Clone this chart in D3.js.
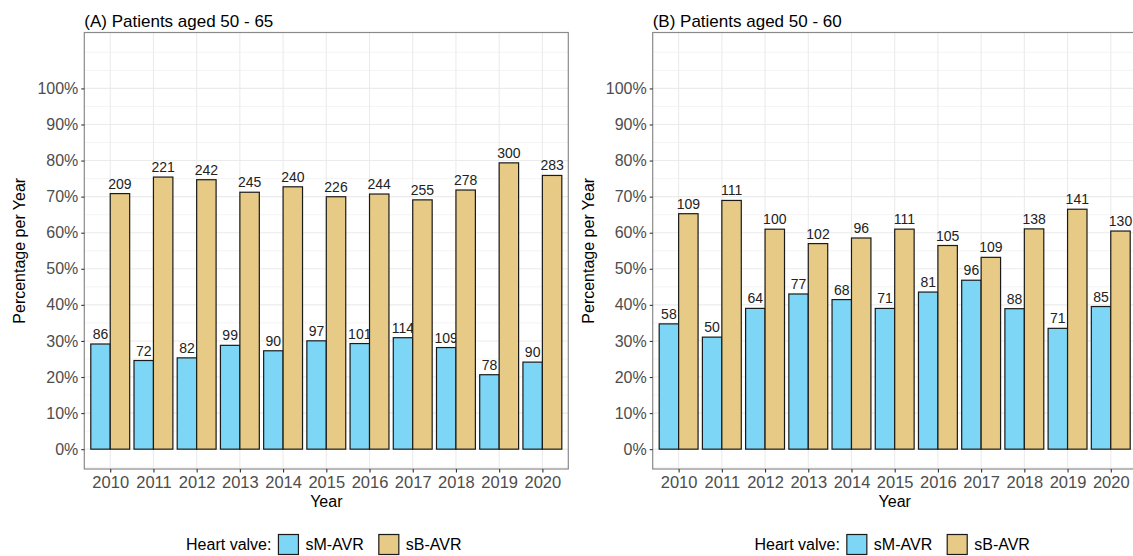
<!DOCTYPE html>
<html>
<head>
<meta charset="utf-8">
<script src="https://cdn.jsdelivr.net/npm/d3@7"></script>
<style>
  html, body { margin: 0; padding: 0; background: #fff; }
  svg { display: block; font-family: "Liberation Sans", Arial, Helvetica, sans-serif; }
</style>
</head>
<body>
<svg id="chart" width="1133" height="556"></svg>
<script>
// ---------- data ----------
const years = ["2010","2011","2012","2013","2014","2015","2016","2017","2018","2019","2020"];
const seriesNames = ["sM-AVR", "sB-AVR"];
const seriesColors = ["#7dd6f6", "#e6ca86"];

const titleA = "(A) Patients aged 50 - 65";
const smA = [86, 72, 82, 99, 90, 97, 101, 114, 109, 78, 90];
const sbA = [209, 221, 242, 245, 240, 226, 244, 255, 278, 300, 283];

const titleB = "(B) Patients aged 50 - 60";
const smB = [58, 50, 64, 77, 68, 71, 81, 96, 88, 71, 85];
const sbB = [109, 111, 100, 102, 96, 111, 105, 109, 138, 141, 130];

const yTickValues = [0, 0.1, 0.2, 0.3, 0.4, 0.5, 0.6, 0.7, 0.8, 0.9, 1.0];
const yMinorValues = [-0.05, 0.05, 0.15, 0.25, 0.35, 0.45, 0.55, 0.65, 0.75, 0.85, 0.95, 1.05, 1.1];
const xTitle = "Year";
const yTitle = "Percentage per Year";
const legendTitle = "Heart valve:";

// ---------- layout ----------
const svg = d3.select("#chart");
const panelW = 484;
const panelTop = 32.5, panelBottom = 469;
const panels = [
  { left: 84.3, title: titleA, sm: smA, sb: sbA },
  { left: 652.7, title: titleB, sm: smB, sb: sbB }
];

const y = d3.scaleLinear().domain([-0.055, 1.155]).range([panelBottom, panelTop]);
const fmt = d3.format(".0%");

panels.forEach(p => {
  const g = svg.append("g");
  const x = d3.scalePoint().domain(years).range([p.left, p.left + panelW]).padding(0.6);
  const step = x.step();
  const inner = d3.scaleBand().domain(seriesNames).range([-0.45 * step, 0.45 * step]).padding(0);

  const rows = years.map((yr, i) => {
    const total = p.sm[i] + p.sb[i];
    return seriesNames.map((s, j) => {
      const n = j === 0 ? p.sm[i] : p.sb[i];
      return { year: yr, series: s, idx: j, n: n, pct: n / total };
    });
  }).flat();

  // clip
  const clipId = "clip" + Math.round(p.left);
  svg.append("clipPath").attr("id", clipId).append("rect")
    .attr("x", p.left).attr("y", panelTop).attr("width", panelW).attr("height", panelBottom - panelTop);

  const pg = g.append("g").attr("clip-path", `url(#${clipId})`);

  // minor grid
  pg.selectAll("line.minor").data(yMinorValues).join("line")
    .attr("x1", p.left).attr("x2", p.left + panelW)
    .attr("y1", d => y(d)).attr("y2", d => y(d))
    .attr("stroke", "#ededed").attr("stroke-width", 0.6);
  // major grid
  pg.selectAll("line.majorY").data(yTickValues).join("line")
    .attr("x1", p.left).attr("x2", p.left + panelW)
    .attr("y1", d => y(d)).attr("y2", d => y(d))
    .attr("stroke", "#ebebeb").attr("stroke-width", 1.1);
  pg.selectAll("line.majorX").data(years).join("line")
    .attr("x1", d => x(d)).attr("x2", d => x(d))
    .attr("y1", panelTop).attr("y2", panelBottom)
    .attr("stroke", "#ebebeb").attr("stroke-width", 1.1);

  // labels (drawn before bars, as in the reference)
  pg.selectAll("text.lbl").data(rows).join("text")
    .attr("x", d => x(d.year) + inner(d.series) + inner.bandwidth() / 2)
    .attr("y", d => y(d.pct) - 5)
    .attr("text-anchor", "middle")
    .attr("font-size", 14)
    .attr("fill", "#222")
    .text(d => d.n);

  // bars
  pg.selectAll("rect.bar").data(rows).join("rect")
    .attr("x", d => x(d.year) + inner(d.series))
    .attr("width", inner.bandwidth())
    .attr("y", d => y(d.pct))
    .attr("height", d => y(0) - y(d.pct))
    .attr("fill", d => seriesColors[d.idx])
    .attr("stroke", "#1a1a1a")
    .attr("stroke-width", 1.2);

  // border
  g.append("rect")
    .attr("x", p.left).attr("y", panelTop).attr("width", panelW).attr("height", panelBottom - panelTop)
    .attr("fill", "none").attr("stroke", "#8a8a8a").attr("stroke-width", 1.2);

  // y axis
  const yAxis = d3.axisLeft(y).tickValues(yTickValues).tickFormat(fmt).tickSize(3).tickPadding(3);
  const ya = g.append("g").attr("transform", `translate(${p.left},0)`).call(yAxis);
  ya.select(".domain").remove();
  ya.selectAll(".tick line").attr("stroke", "#333").attr("stroke-width", 1.1);
  ya.selectAll(".tick text").attr("font-size", 16).attr("fill", "#4d4d4d").attr("font-family", null);

  // x axis
  const xAxis = d3.axisBottom(x).tickSize(3.5).tickPadding(4);
  const xa = g.append("g").attr("transform", `translate(0,${panelBottom})`).call(xAxis);
  xa.select(".domain").remove();
  xa.selectAll(".tick line").attr("stroke", "#333").attr("stroke-width", 1.1);
  xa.selectAll(".tick text").attr("font-size", 16.5).attr("fill", "#4d4d4d").attr("font-family", null);

  // titles
  g.append("text").attr("x", p.left).attr("y", 27).attr("font-size", 17).attr("fill", "#000").text(p.title);
  g.append("text").attr("x", p.left + panelW / 2).attr("y", 507).attr("text-anchor", "middle")
    .attr("font-size", 16).attr("fill", "#000").text(xTitle);
  g.append("text").attr("transform", `translate(${p.left - 59},${(panelTop + panelBottom) / 2}) rotate(-90)`)
    .attr("text-anchor", "middle").attr("font-size", 16).attr("fill", "#000").text(yTitle);

  // legend
  const lg = g.append("g");
  const lt = lg.append("text").attr("y", 550).attr("font-size", 16).attr("fill", "#000").text(legendTitle);
  let cx = lt.node().getComputedTextLength() + 7;
  seriesNames.forEach((s, j) => {
    lg.append("rect").attr("x", cx).attr("y", 534.5).attr("width", 20).attr("height", 20)
      .attr("fill", seriesColors[j]).attr("stroke", "#1a1a1a").attr("stroke-width", 1.2);
    cx += 20 + 7;
    const t = lg.append("text").attr("x", cx).attr("y", 550).attr("font-size", 16).attr("fill", "#000").text(s);
    cx += t.node().getComputedTextLength() + (j === 0 ? 15 : 0);
  });
  const totalW = cx;
  lg.attr("transform", `translate(${p.left + 239.5 - totalW / 2},0)`);
});
</script>
</body>
</html>
